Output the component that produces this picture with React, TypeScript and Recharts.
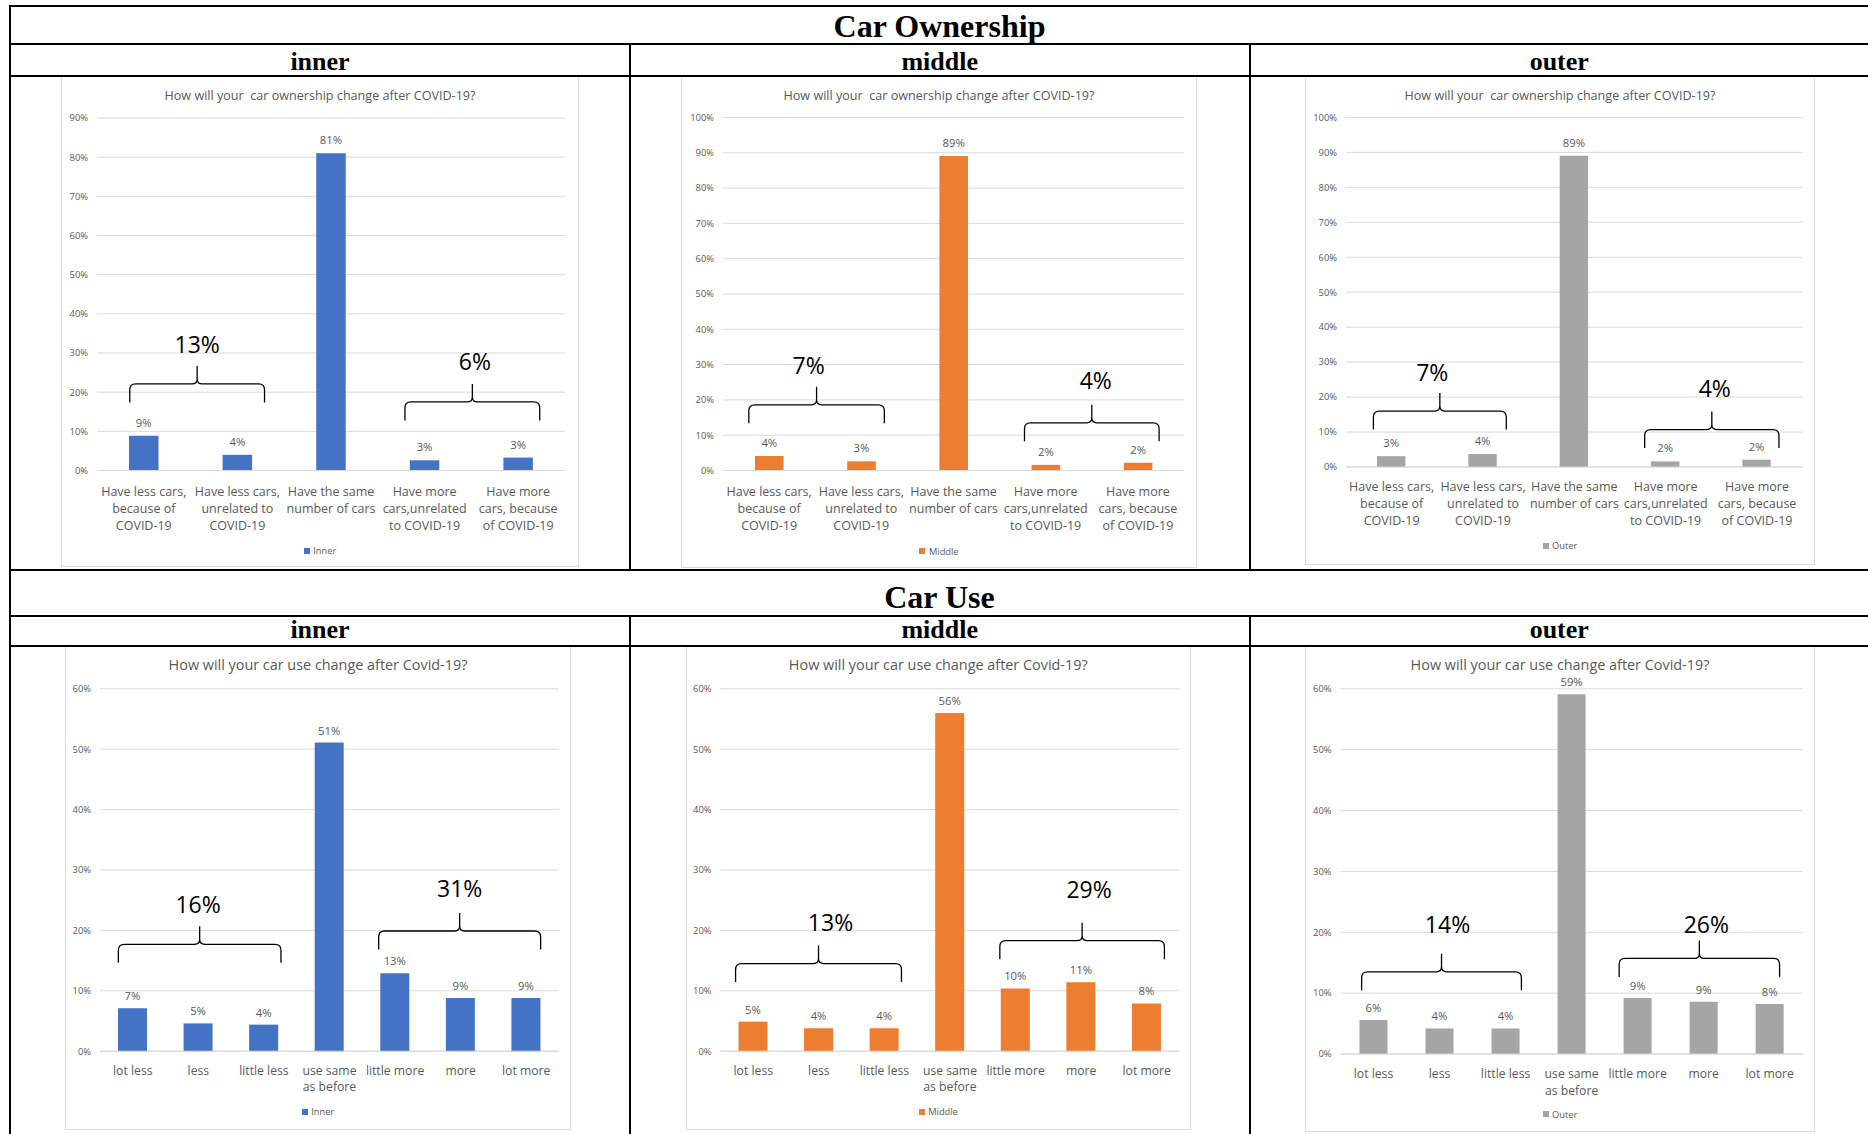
import React from 'react';
import {
  ComposedChart,
  Bar,
  XAxis,
  YAxis,
  CartesianGrid,
  LabelList,
  Legend,
  ReferenceLine,
} from 'recharts';

// ---------------- data ----------------
const sectionTitles = ['Car Ownership', 'Car Use'];
const zoneNames = ['inner', 'middle', 'outer'];
const seriesNames = ['Inner', 'Middle', 'Outer'];

const ownershipTitle = 'How will your  car ownership change after COVID-19?';
const useTitle = 'How will your car use change after Covid-19?';

const ownershipCategories = [
  'Have less cars,\nbecause of\nCOVID-19',
  'Have less cars,\nunrelated to\nCOVID-19',
  'Have the same\nnumber of cars',
  'Have more\ncars,unrelated\nto COVID-19',
  'Have more\ncars, because\nof COVID-19',
];
const useCategories = [
  'lot less',
  'less',
  'little less',
  'use same\nas before',
  'little more',
  'more',
  'lot more',
];

const ownershipInner = [8.9, 4.0, 81.0, 2.6, 3.3];
const ownershipMiddle = [4.1, 2.6, 89.1, 1.6, 2.2];
const ownershipOuter = [3.1, 3.7, 89.0, 1.6, 2.1];
const useInner = [7.1, 4.6, 4.4, 51.1, 12.9, 8.8, 8.8];
const useMiddle = [4.9, 3.8, 3.8, 56.0, 10.4, 11.4, 7.9];
const useOuter = [5.6, 4.2, 4.2, 59.1, 9.2, 8.6, 8.2];

const ownershipInnerTotals = ['13%', '6%'];
const ownershipMiddleTotals = ['7%', '4%'];
const ownershipOuterTotals = ['7%', '4%'];
const useInnerTotals = ['16%', '31%'];
const useMiddleTotals = ['13%', '29%'];
const useOuterTotals = ['14%', '26%'];

const ownershipTicks90 = [0, 10, 20, 30, 40, 50, 60, 70, 80, 90];
const ownershipTicks100 = [0, 10, 20, 30, 40, 50, 60, 70, 80, 90, 100];
const useTicks = [0, 10, 20, 30, 40, 50, 60];

// ---------------- styles ----------------
const FONT = '"Open Sans", "Noto Sans", sans-serif';
const SERIF = '"Liberation Serif", "Times New Roman", serif';
const GRAY_TEXT = '#595959';
const GRID = '#D9D9D9';
const BLUE = '#4472C4';
const ORANGE = '#ED7D31';
const GREY = '#A5A5A5';

// brace layout: span in category units (band index + fraction), level in axis units
type BraceLayout = { from: number; to: number; level: number; rise: number; dx: number };

type PanelCfg = {
  left: number;
  top: number;
  width: number;
  height: number;
  margin: { top: number; right: number; bottom: number; left: number };
  yW: number;
  xH: number;
  yMax: number;
  ticks: number[];
  categories: string[];
  values: number[];
  name: string;
  color: string;
  barSize: number;
  title: string;
  titleSize: number;
  titleY: number;
  catFont: number;
  catFirst: number;
  catLine: number;
  labelOffset: number;
  legendY: number;
  totals: string[];
  braces: BraceLayout[];
};

function bracePath(x1: number, x2: number, y: number) {
  const h = 18.5;
  const t = 18;
  const r = 6;
  const xm = (x1 + x2) / 2;
  return (
    `M${x1},${y + h} L${x1},${y + r} Q${x1},${y} ${x1 + r},${y} ` +
    `L${xm - 5},${y} Q${xm},${y} ${xm},${y - 5} L${xm},${y - t} ` +
    `L${xm},${y - 5} Q${xm},${y} ${xm + 5},${y} ` +
    `L${x2 - r},${y} Q${x2},${y} ${x2},${y + r} L${x2},${y + h}`
  );
}

function BraceShape(props: any) {
  const { x1, x2, y1, text, rise, dx, a, b, from, to } = props;
  if (x1 == null || x2 == null || y1 == null) return null;
  // x1, x2 are band centres of categories a and b
  const bw = (x2 - x1) / (b - a);
  const xs = x1 + (from - (a + 0.5)) * bw;
  const xe = x1 + (to - (a + 0.5)) * bw;
  const xm = (xs + xe) / 2;
  return (
    <g>
      <path d={bracePath(xs, xe, y1)} fill="none" stroke="#000" strokeWidth={1.3} />
      <text
        x={xm + dx}
        y={y1 - rise}
        textAnchor="middle"
        dominantBaseline="central"
        fontFamily={FONT}
        fontSize={23}
        fill="#000"
      >
        {text}
      </text>
    </g>
  );
}

function Panel(p: PanelCfg) {
  const data = p.categories.map((c, i) => ({ category: c, value: p.values[i] }));
  const CatTick = (tp: any) => {
    const lines = String(tp.payload.value).split('\n');
    return (
      <g>
        {lines.map((ln, i) => (
          <text
            key={i}
            x={tp.x}
            y={tp.y + p.catFirst + i * p.catLine}
            textAnchor="middle"
            dominantBaseline="central"
            fontFamily={FONT}
            fontSize={p.catFont}
            fill={GRAY_TEXT}
          >
            {ln}
          </text>
        ))}
      </g>
    );
  };
  const LegendContent = (lp: any) => {
    const items = (lp && lp.payload) || [];
    return (
      <div
        style={{
          display: 'flex',
          justifyContent: 'center',
          alignItems: 'center',
          height: 16,
          fontFamily: FONT,
          fontSize: 9.3,
          color: GRAY_TEXT,
        }}
      >
        {items.map((it: any, i: number) => (
          <span key={i} style={{ display: 'flex', alignItems: 'center' }}>
            <span
              style={{
                display: 'inline-block',
                width: 6,
                height: 6,
                background: it.color,
                marginRight: 3.5,
              }}
            />
            {it.value}
          </span>
        ))}
      </div>
    );
  };
  return (
    <div
      style={{
        position: 'absolute',
        left: p.left,
        top: p.top,
        width: p.width,
        height: p.height,
        background: '#fff',
      }}
    >
      <ComposedChart width={p.width} height={p.height} data={data} margin={p.margin}>
        <CartesianGrid vertical={false} stroke={GRID} strokeWidth={1} />
        <XAxis
          dataKey="category"
          type="category"
          interval={0}
          tickLine={false}
          tickSize={0}
          tickMargin={0}
          height={p.xH}
          axisLine={{ stroke: GRID }}
          tick={CatTick}
        />
        <YAxis
          type="number"
          domain={[0, p.yMax]}
          ticks={p.ticks}
          interval={0}
          width={p.yW}
          axisLine={false}
          tickLine={false}
          tickSize={0}
          tickMargin={9}
          tick={{ fontSize: 9.4, fill: GRAY_TEXT, fontFamily: FONT }}
          tickFormatter={(v: any) => `${v}%`}
        />
        <Bar
          dataKey="value"
          name={p.name}
          fill={p.color}
          barSize={p.barSize}
          isAnimationActive={false}
        >
          <LabelList
            dataKey="value"
            position="top"
            offset={p.labelOffset}
            formatter={(v: any) => `${Math.round(Number(v))}%`}
            fill={GRAY_TEXT}
            fontSize={11.3}
            fontFamily={FONT}
          />
        </Bar>
        {p.braces.map((br, i) => {
          const a = Math.floor(br.from);
          const b = Math.floor(br.to);
          return (
            <ReferenceLine
              key={i}
              ifOverflow="visible"
              segment={[
                { x: p.categories[a], y: br.level },
                { x: p.categories[b], y: br.level },
              ]}
              shape={(sp: any) => (
                <BraceShape
                  {...sp}
                  text={p.totals[i]}
                  rise={br.rise}
                  dx={br.dx}
                  a={a}
                  b={b}
                  from={br.from}
                  to={br.to}
                />
              )}
            />
          );
        })}
        <Legend
          verticalAlign="middle"
          align="center"
          layout="horizontal"
          wrapperStyle={{ top: p.legendY - 8, left: 0, width: p.width, height: 16 }}
          content={LegendContent}
        />
      </ComposedChart>
      <div
        style={{
          position: 'absolute',
          left: 0,
          top: p.titleY - 11,
          width: p.width,
          height: 22,
          lineHeight: '22px',
          textAlign: 'center',
          fontFamily: FONT,
          fontSize: p.titleSize,
          color: GRAY_TEXT,
          whiteSpace: 'pre',
        }}
      >
        {p.title}
      </div>
      <div
        style={{
          position: 'absolute',
          left: 0,
          top: 0,
          width: p.width,
          height: p.height,
          boxSizing: 'border-box',
          border: `1px solid ${GRID}`,
          pointerEvents: 'none',
        }}
      />
    </div>
  );
}

const panels: PanelCfg[] = [
  {
    left: 61, top: 76, width: 518, height: 491,
    margin: { top: 42, right: 14, bottom: 0, left: 0 },
    yW: 36, xH: 96.5, yMax: 90, ticks: ownershipTicks90,
    categories: ownershipCategories, values: ownershipInner, name: seriesNames[0], color: BLUE,
    barSize: 29.5, title: ownershipTitle, titleSize: 12.6, titleY: 19.5,
    catFont: 12.5, catFirst: 20.5, catLine: 17, labelOffset: 9, legendY: 474.5,
    totals: ownershipInnerTotals,
    braces: [
      { from: 0.35, to: 1.79, level: 22.1, rise: 40, dx: 0 },
      { from: 3.29, to: 4.73, level: 17.5, rise: 41, dx: 2.5 },
    ],
  },
  {
    left: 681, top: 76, width: 516, height: 492,
    margin: { top: 41.5, right: 13, bottom: 0, left: 0 },
    yW: 42, xH: 97.5, yMax: 100, ticks: ownershipTicks100,
    categories: ownershipCategories, values: ownershipMiddle, name: seriesNames[1], color: ORANGE,
    barSize: 28.6, title: ownershipTitle, titleSize: 12.6, titleY: 19.5,
    catFont: 12.5, catFirst: 20.5, catLine: 17, labelOffset: 9, legendY: 475,
    totals: ownershipMiddleTotals,
    braces: [
      { from: 0.28, to: 1.75, level: 18.6, rise: 40, dx: -8 },
      { from: 3.27, to: 4.73, level: 13.5, rise: 43, dx: 4 },
    ],
  },
  {
    left: 1305, top: 76, width: 510, height: 489,
    margin: { top: 41.4, right: 12.3, bottom: 0, left: 0 },
    yW: 41, xH: 98, yMax: 100, ticks: ownershipTicks100,
    categories: ownershipCategories, values: ownershipOuter, name: seriesNames[2], color: GREY,
    barSize: 28.4, title: ownershipTitle, titleSize: 12.6, titleY: 19.5,
    catFont: 12.5, catFirst: 19, catLine: 17, labelOffset: 9, legendY: 469.6,
    totals: ownershipOuterTotals,
    braces: [
      { from: 0.3, to: 1.755, level: 16.0, rise: 39, dx: -7.6 },
      { from: 3.27, to: 4.74, level: 10.7, rise: 42, dx: 3 },
    ],
  },
  {
    left: 65, top: 646, width: 506, height: 484,
    margin: { top: 42.8, right: 12, bottom: 0, left: 0 },
    yW: 35, xH: 78.8, yMax: 60, ticks: useTicks,
    categories: useCategories, values: useInner, name: seriesNames[0], color: BLUE,
    barSize: 29, title: useTitle, titleSize: 14.4, titleY: 19,
    catFont: 12.2, catFirst: 19, catLine: 16.5, labelOffset: 8, legendY: 465.6,
    totals: useInnerTotals,
    braces: [
      { from: 0.28, to: 2.76, level: 17.7, rise: 40, dx: -1.6 },
      { from: 4.25, to: 6.72, level: 19.9, rise: 43, dx: 0 },
    ],
  },
  {
    left: 685.5, top: 646, width: 505.5, height: 484,
    margin: { top: 42.8, right: 12, bottom: 0, left: 0 },
    yW: 34.5, xH: 78.8, yMax: 60, ticks: useTicks,
    categories: useCategories, values: useMiddle, name: seriesNames[1], color: ORANGE,
    barSize: 29, title: useTitle, titleSize: 14.4, titleY: 19,
    catFont: 12.2, catFirst: 19, catLine: 16.5, labelOffset: 8, legendY: 465.5,
    totals: useMiddleTotals,
    braces: [
      { from: 0.23, to: 2.76, level: 14.5, rise: 42, dx: 12 },
      { from: 4.26, to: 6.77, level: 18.3, rise: 52, dx: 7 },
    ],
  },
  {
    left: 1305, top: 646, width: 510, height: 486,
    margin: { top: 42.8, right: 12.3, bottom: 0, left: 0 },
    yW: 35.5, xH: 78, yMax: 60, ticks: useTicks,
    categories: useCategories, values: useOuter, name: seriesNames[2], color: GREY,
    barSize: 28, title: useTitle, titleSize: 14.4, titleY: 19,
    catFont: 12.2, catFirst: 19, catLine: 17, labelOffset: 8, legendY: 468.3,
    totals: useOuterTotals,
    braces: [
      { from: 0.32, to: 2.74, level: 13.5, rise: 48, dx: 6 },
      { from: 4.22, to: 6.65, level: 15.7, rise: 34, dx: 7 },
    ],
  },
];

function Line(props: { x: number; y: number; w: number; h: number }) {
  return (
    <div
      style={{
        position: 'absolute',
        left: props.x,
        top: props.y,
        width: props.w,
        height: props.h,
        background: '#000',
      }}
    />
  );
}

function Header(props: {
  text: string;
  x: number;
  w: number;
  top: number;
  size: number;
  lh: number;
}) {
  return (
    <div
      style={{
        position: 'absolute',
        left: props.x,
        top: props.top,
        width: props.w,
        height: props.lh,
        lineHeight: `${props.lh}px`,
        textAlign: 'center',
        fontFamily: SERIF,
        fontWeight: 'bold',
        fontSize: props.size,
        color: '#000',
        whiteSpace: 'nowrap',
      }}
    >
      {props.text}
    </div>
  );
}

const cols = [
  { x: 11, w: 618 },
  { x: 631, w: 617.5 },
  { x: 1250.5, w: 617.5 },
];

export default function App() {
  return (
    <div
      style={{
        position: 'absolute',
        left: 0,
        top: 0,
        width: 1868,
        height: 1134,
        overflow: 'hidden',
        background: '#fff',
      }}
    >
      {panels.map((p, i) => (
        <Panel key={i} {...p} />
      ))}

      {/* table rules */}
      <Line x={9} y={5} w={1859} h={2} />
      <Line x={9} y={5} w={2} h={1129} />
      <Line x={9} y={42.5} w={1859} h={2} />
      <Line x={9} y={74.5} w={1859} h={2} />
      <Line x={9} y={569} w={1859} h={2} />
      <Line x={9} y={615} w={1859} h={2} />
      <Line x={9} y={644.5} w={1859} h={2} />
      <Line x={629} y={43} w={2} h={528} />
      <Line x={1248.5} y={43} w={2} h={528} />
      <Line x={629} y={615} w={2} h={519} />
      <Line x={1248.5} y={615} w={2} h={519} />

      <Header text={sectionTitles[0]} x={11} w={1857} top={7.8} size={32} lh={36} />
      <Header text={sectionTitles[1]} x={11} w={1857} top={578.8} size={32} lh={36} />
      {zoneNames.map((z, i) => (
        <Header key={`a${i}`} text={z} x={cols[i].x} w={cols[i].w} top={46.6} size={26} lh={30} />
      ))}
      {zoneNames.map((z, i) => (
        <Header key={`b${i}`} text={z} x={cols[i].x} w={cols[i].w} top={614.9} size={26} lh={30} />
      ))}
    </div>
  );
}
